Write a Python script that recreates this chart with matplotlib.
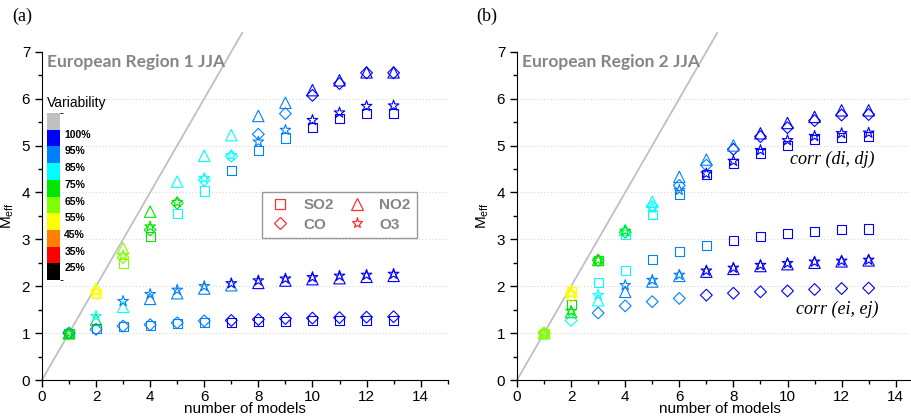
import numpy as np
import matplotlib
import matplotlib.pyplot as plt
from matplotlib.colors import ListedColormap, BoundaryNorm
from matplotlib.cm import ScalarMappable
from matplotlib.lines import Line2D

plt.rcParams['font.family'] = ['Liberation Sans', 'DejaVu Sans']

n_models = np.arange(1, 14)
species = ['SO2', 'CO', 'NO2', 'O3']
markers = {'SO2': 's', 'NO2': '^', 'CO': 'D', 'O3': '*'}
msize = {'SO2': 6.5, 'NO2': 8.2, 'CO': 6.0, 'O3': 8.0}

# variability colour scale (percent)
var_bounds = [15, 25, 35, 45, 55, 65, 75, 85, 95, 100, 105]
var_colors = ['#000000', '#ff0000', '#ff8000', '#ffff00', '#80ff00',
              '#00e600', '#00ffff', '#0080ff', '#0000ff', '#c0c0c0']
var_ticks = [25, 35, 45, 55, 65, 75, 85, 95, 100]
var_labels = ['25%', '35%', '45%', '55%', '65%', '75%', '85%', '95%', '100%']

# ---- panel (a): European Region 1 JJA ----
# corr(di,dj)
a_up_so2 = [1.0, 1.85, 2.49, 3.05, 3.54, 4.03, 4.46, 4.90, 5.16, 5.38, 5.58, 5.68, 5.68]
a_up_no2 = [1.0, 1.95, 2.81, 3.59, 4.23, 4.78, 5.22, 5.63, 5.91, 6.18, 6.39, 6.56, 6.56]
a_up_co = [1.0, 1.85, 2.61, 3.20, 3.77, 4.26, 4.77, 5.24, 5.68, 6.07, 6.32, 6.55, 6.55]
a_up_o3 = [1.0, 1.90, 2.66, 3.27, 3.79, 4.30, 4.79, 5.08, 5.33, 5.54, 5.70, 5.84, 5.85]
a_up_var_so2 = [70, 50, 60, 70, 80, 80, 90, 90, 90, 97, 97, 97, 97]
a_up_var_no2 = [70, 50, 60, 70, 80, 80, 80, 90, 90, 97, 97, 97, 97]
a_up_var_co = [90, 50, 60, 70, 70, 80, 80, 90, 90, 97, 97, 97, 97]
a_up_var_o3 = [70, 50, 60, 70, 70, 80, 80, 90, 90, 97, 97, 97, 97]
# corr(ei,ej)
a_lo_so2 = [1.0, 1.10, 1.14, 1.17, 1.20, 1.22, 1.23, 1.24, 1.25, 1.26, 1.27, 1.27, 1.27]
a_lo_no2 = [1.0, 1.28, 1.56, 1.73, 1.85, 1.95, 2.02, 2.07, 2.12, 2.15, 2.17, 2.20, 2.22]
a_lo_co = [1.0, 1.08, 1.15, 1.18, 1.22, 1.26, 1.27, 1.29, 1.31, 1.32, 1.33, 1.34, 1.35]
a_lo_o3 = [1.0, 1.36, 1.68, 1.83, 1.92, 2.00, 2.06, 2.12, 2.16, 2.19, 2.22, 2.24, 2.26]
a_lo_var_so2 = [90, 90, 90, 90, 90, 90, 97, 97, 97, 97, 97, 97, 97]
a_lo_var_no2 = [70, 70, 80, 90, 90, 90, 90, 97, 97, 97, 97, 97, 97]
a_lo_var_co = [90, 90, 90, 90, 90, 90, 97, 97, 97, 97, 97, 97, 97]
a_lo_var_o3 = [70, 80, 90, 90, 90, 90, 97, 97, 97, 97, 97, 97, 97]

# ---- panel (b): European Region 2 JJA ----
b_up_so2 = [1.0, 1.88, 2.55, 3.10, 3.53, 3.96, 4.38, 4.62, 4.83, 5.01, 5.13, 5.18, 5.20]
b_up_no2 = [1.0, 1.90, 2.56, 3.20, 3.80, 4.33, 4.70, 5.00, 5.26, 5.48, 5.61, 5.75, 5.75]
b_up_co = [1.0, 1.78, 2.55, 3.15, 3.70, 4.15, 4.58, 4.92, 5.19, 5.38, 5.53, 5.65, 5.66]
b_up_o3 = [1.0, 1.85, 2.56, 3.18, 3.67, 4.05, 4.40, 4.67, 4.90, 5.11, 5.20, 5.26, 5.27]
b_up_var_so2 = [60, 50, 70, 80, 80, 90, 97, 97, 97, 97, 97, 97, 97]
b_up_var_no2 = [60, 50, 70, 80, 80, 90, 90, 90, 97, 97, 97, 97, 97]
b_up_var_co = [60, 50, 70, 70, 80, 90, 90, 97, 97, 97, 97, 97, 97]
b_up_var_o3 = [60, 50, 70, 70, 80, 90, 97, 97, 97, 97, 97, 97, 97]
b_lo_so2 = [1.0, 1.62, 2.07, 2.34, 2.56, 2.75, 2.86, 2.97, 3.07, 3.12, 3.17, 3.20, 3.22]
b_lo_no2 = [1.0, 1.45, 1.70, 1.88, 2.10, 2.22, 2.31, 2.37, 2.43, 2.47, 2.50, 2.53, 2.55]
b_lo_co = [1.0, 1.27, 1.43, 1.58, 1.67, 1.74, 1.81, 1.85, 1.88, 1.90, 1.93, 1.95, 1.96]
b_lo_o3 = [1.0, 1.47, 1.81, 2.02, 2.13, 2.24, 2.33, 2.39, 2.45, 2.49, 2.52, 2.54, 2.56]
b_lo_var_so2 = [60, 70, 80, 80, 90, 90, 90, 97, 97, 97, 97, 97, 97]
b_lo_var_no2 = [60, 70, 80, 90, 90, 90, 97, 97, 97, 97, 97, 97, 97]
b_lo_var_co = [60, 80, 90, 90, 90, 90, 97, 97, 97, 97, 97, 97, 97]
b_lo_var_o3 = [60, 70, 80, 90, 90, 90, 97, 97, 97, 97, 97, 97, 97]

cmap = ListedColormap(var_colors)
norm = BoundaryNorm(var_bounds, cmap.N)

fig = plt.figure(figsize=(9.12, 4.18), dpi=100)
ax_a = fig.add_axes([0.046, 0.0909, 0.4449, 0.7854])
ax_b = fig.add_axes([0.5669, 0.0909, 0.4449, 0.7854])


def setup_axes(ax, title):
    ax.set_xlim(0, 15)
    ax.set_ylim(0, 7)
    for s in ['top', 'right']:
        ax.spines[s].set_visible(False)
    ax.set_xticks(np.arange(0, 15, 2))
    ax.set_xticks(np.arange(0, 16, 1), minor=True)
    ax.set_yticks(np.arange(0, 8, 1))
    ax.set_yticks(np.arange(0, 7.01, 0.5), minor=True)
    ax.tick_params(which='major', direction='out', length=5, width=1, labelsize=11)
    ax.tick_params(axis='x', which='major', pad=2)
    ax.tick_params(which='minor', direction='out', length=3, width=1)
    ax.hlines(np.arange(1, 7), 0, 15, colors='#d8d8d8', linestyles=(0, (1, 2)), linewidth=0.8, zorder=0)
    ax.plot([0, 7.4], [0, 7.4], color='#c0c0c0', lw=1.3, clip_on=False, zorder=1)
    ax.set_xlabel('number of models', fontsize=11, labelpad=-1)
    ax.set_ylabel(r'M$_{\mathregular{eff}}$', fontsize=11, labelpad=4)
    ax.text(0.2, 6.78, title, fontsize=12.5, fontweight='bold', color='#858585',
            family='Lato', va='center', ha='left')


def draw_group(ax, series, variab):
    for sp, vals, var in zip(species, series, variab):
        cols = cmap(norm(np.array(var)))
        ax.scatter(n_models, vals, s=msize[sp] ** 2, marker=markers[sp],
                   facecolors='none', edgecolors=cols, linewidths=0.8, zorder=3)


setup_axes(ax_a, 'European Region 1 JJA')
draw_group(ax_a, [a_lo_so2, a_lo_co, a_lo_no2, a_lo_o3],
           [a_lo_var_so2, a_lo_var_co, a_lo_var_no2, a_lo_var_o3])
draw_group(ax_a, [a_up_so2, a_up_co, a_up_no2, a_up_o3],
           [a_up_var_so2, a_up_var_co, a_up_var_no2, a_up_var_o3])

setup_axes(ax_b, 'European Region 2 JJA')
draw_group(ax_b, [b_lo_so2, b_lo_co, b_lo_no2, b_lo_o3],
           [b_lo_var_so2, b_lo_var_co, b_lo_var_no2, b_lo_var_o3])
draw_group(ax_b, [b_up_so2, b_up_co, b_up_no2, b_up_o3],
           [b_up_var_so2, b_up_var_co, b_up_var_no2, b_up_var_o3])
ax_b.text(10.1, 4.71, 'corr (di, dj)', family='Liberation Serif', style='italic',
          fontsize=13, va='center')
ax_b.text(10.33, 1.5, 'corr (ei, ej)', family='Liberation Serif', style='italic',
          fontsize=13, va='center')

# legend
handles = [Line2D([], [], ls='none', marker=markers[sp], markersize=msize[sp],
                  markerfacecolor='none', markeredgecolor='#ff3030', markeredgewidth=0.9)
           for sp in species]
leg = ax_a.legend(handles, species, ncol=2, loc='upper left', bbox_to_anchor=(0.542, 0.572),
                  frameon=True, fancybox=False, edgecolor='#808080', fontsize=11,
                  handlelength=1.6, handletextpad=0.7, columnspacing=0.7,
                  borderpad=0.4, labelspacing=0.35, borderaxespad=0)
leg.get_frame().set_linewidth(1.0)
for t in leg.get_texts():
    t.set_color('#858585')
    t.set_fontweight('bold')

# variability colour bar
ax_a.text(0.2, 5.9, 'Variability', fontsize=10, va='center', ha='left')
cax = fig.add_axes([0.0518, 0.330, 0.0142, 0.3995])
cb = fig.colorbar(ScalarMappable(norm=norm, cmap=cmap), cax=cax, ticks=var_ticks,
                  spacing='uniform')
cb.outline.set_visible(False)
cb.ax.tick_params(length=0, pad=3)
cb.ax.set_yticklabels(var_labels, fontsize=7.5, fontweight='bold')
for lab in cb.ax.get_yticklabels():
    lab.set_va('top')

fig.text(0.013, 0.962, '(a)', family='Liberation Serif', fontsize=13, va='center')
fig.text(0.522, 0.962, '(b)', family='Liberation Serif', fontsize=13, va='center')

fig.savefig('out.png', dpi=100)
